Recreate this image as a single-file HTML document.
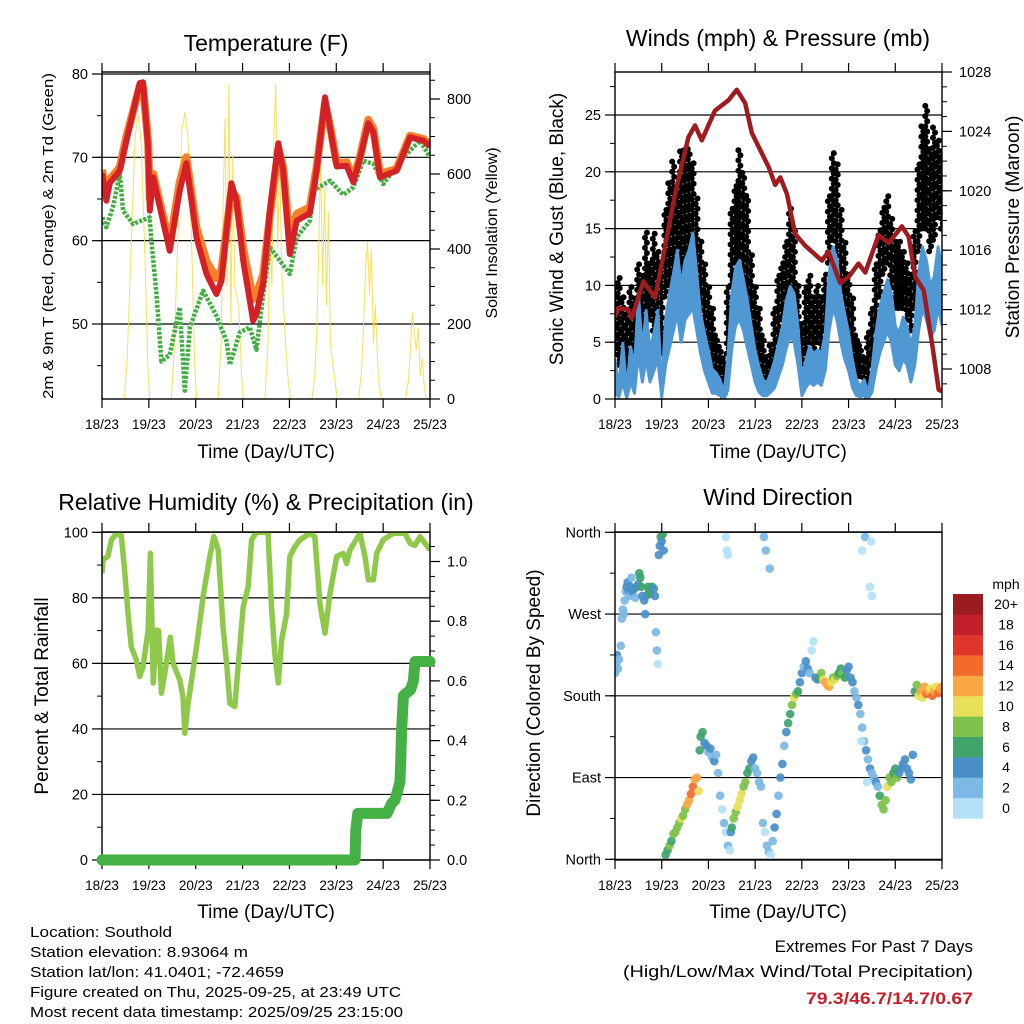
<!DOCTYPE html>
<html><head><meta charset="utf-8"><title>Southold Station Meteogram</title>
<style>
html,body{margin:0;padding:0;background:#fff;}
svg{display:block;font-family:"Liberation Sans",Arial,sans-serif;}
</style></head>
<body>
<svg id="chart" xmlns="http://www.w3.org/2000/svg" width="1024" height="1024" viewBox="0 0 1024 1024">
<rect x="0" y="0" width="1024" height="1024" fill="#fff"/>
<defs>
<clipPath id="c1"><rect x="102" y="72" width="328" height="327"/></clipPath>
<clipPath id="c2"><rect x="615" y="72" width="327" height="327"/></clipPath>
<clipPath id="c3"><rect x="102" y="532" width="328" height="328"/></clipPath>
<clipPath id="c4"><rect x="615" y="532" width="327" height="328"/></clipPath>
</defs>
<text x="266" y="51" font-size="23" text-anchor="middle">Temperature (F)</text>
<text x="778" y="46" font-size="23" text-anchor="middle">Winds (mph) &amp; Pressure (mb)</text>
<text x="266" y="510" font-size="23" text-anchor="middle">Relative Humidity (%) &amp; Precipitation (in)</text>
<text x="778" y="505" font-size="23" text-anchor="middle">Wind Direction</text>
<g font-size="19" text-anchor="middle">
<text x="266" y="458">Time (Day/UTC)</text>
<text x="778" y="458">Time (Day/UTC)</text>
<text x="266" y="918">Time (Day/UTC)</text>
<text x="778" y="918">Time (Day/UTC)</text>
</g>
<text transform="translate(53,236) rotate(-90)" font-size="15" text-anchor="middle" textLength="326" lengthAdjust="spacingAndGlyphs">2m &amp; 9m T (Red, Orange) &amp; 2m Td (Green)</text>
<text transform="translate(497,233) rotate(-90)" font-size="16" text-anchor="middle">Solar Insolation (Yellow)</text>
<text transform="translate(563,229) rotate(-90)" font-size="19" text-anchor="middle">Sonic Wind &amp; Gust (Blue, Black)</text>
<text transform="translate(1019,227) rotate(-90)" font-size="19" text-anchor="middle">Station Pressure (Maroon)</text>
<text transform="translate(48,696) rotate(-90)" font-size="19" text-anchor="middle">Percent &amp; Total Rainfall</text>
<text transform="translate(540,693) rotate(-90)" font-size="19" text-anchor="middle">Direction (Colored By Speed)</text>
<g font-size="15">
<text x="30" y="937" textLength="142" lengthAdjust="spacingAndGlyphs">Location: Southold</text>
<text x="30" y="957" textLength="218" lengthAdjust="spacingAndGlyphs">Station elevation: 8.93064 m</text>
<text x="30" y="977" textLength="254" lengthAdjust="spacingAndGlyphs">Station lat/lon: 41.0401; -72.4659</text>
<text x="30" y="997" textLength="371" lengthAdjust="spacingAndGlyphs">Figure created on Thu, 2025-09-25, at 23:49 UTC</text>
<text x="30" y="1017" textLength="373" lengthAdjust="spacingAndGlyphs">Most recent data timestamp: 2025/09/25 23:15:00</text>
</g>
<g font-size="17" text-anchor="end">
<text x="973" y="952">Extremes For Past 7 Days</text>
<text x="973" y="977" textLength="350" lengthAdjust="spacingAndGlyphs">(High/Low/Max Wind/Total Precipitation)</text>
<text x="973" y="1004" font-weight="bold" fill="#c8202a" textLength="167" lengthAdjust="spacingAndGlyphs">79.3/46.7/14.7/0.67</text>
</g>
<g id="layer"></g>
</svg>
<script>
// ---------- data ----------
const dayLabels = ["18/23","19/23","20/23","21/23","22/23","23/23","24/23","25/23"];
const tempTicks = [50,60,70,80];
const solarTicks = [0,200,400,600,800];
const windTicks = [0,5,10,15,20,25];
const presTicks = [1008,1012,1016,1020,1024,1028];
const rhTicks = [0,20,40,60,80,100];
const precipTicks = [0.0,0.2,0.4,0.6,0.8,1.0];
const dirTicks = [0,90,180,270,360];
const dirLabels = ["North","East","South","West","North"];
const speedBins = ["0","2","4","6","8","10","12","14","16","18","20+"];
const speedColors = ["#b5e1f7","#7cb9e4","#4a8fc8","#3fa36a","#7ec14b","#e8e05a","#f9a644","#f26a2c","#e0352a","#c0202a","#9b1b1e"];

const tempHours = [0,2.2,3.9,9.1,12.5,19.3,21,23.6,24.5,26.2,34.7,39.8,43.2,48.4,53.5,58.6,61.2,66.3,68.9,72.3,77.4,79.1,82.6,86,90.3,92.8,96.2,99.7,106.5,109.9,114.2,116.8,120.2,125.3,128.7,132.1,136.4,139,142.4,150.9,157.8,164.6,168];
const temp2m = [68.1,64.8,66.9,68.4,72,78.9,79,71.2,63.6,67.6,58.8,66,69.3,60.4,56,53.6,55.2,66.9,64.8,57.6,50.4,51.2,55,63.6,71.7,68.4,58.4,62.4,63.3,68.4,77.2,73.6,68.9,69,67,69.8,74.1,73,67.6,68.4,72.4,72,71.3];
const temp9m = [68.5,65.5,67.3,68.8,72.5,78.5,78.5,72,65,68,59.5,67,70,61.5,57.5,55.5,56.5,66,65.2,59,53,53.5,56,63,71,68.8,60,63.2,64,68.8,76.5,73.8,69.3,69.4,67.5,70,74.5,73.4,68,68.6,72.6,72.2,71.5];
const dewHours = [0.2,2.2,5.6,9.1,10.8,15.9,24.4,25.3,27.9,30.4,34.7,39.8,42.4,45,51.8,58.6,63.8,65.5,70.6,75.7,79.1,82.6,86,91.1,96.2,99.7,106.5,108.2,116.8,123.6,128.7,133.8,139,144.1,154.4,162.9,168];
const dewPoint = [62.8,61.6,64,68,63.6,62,62.8,60,53.6,45.5,46.3,52,42,49.6,54,51,47.9,45.1,49,49.6,46.9,53.6,59.2,57.6,56,60.4,62.4,66,67.2,65.5,66.4,69.6,69.2,66.8,70,72,70];
const solarHours = [11.5,13,15,17,18.5,20,22,23.5,24.5, 35.5,37,39,41,42.5,44,46,47.5,48.5, 59.5,61,62,63,64,65,66,67,68,70,71.5,72.5, 83.5,85,86,87,88,89,90,91,92,94,95.5,96.5, 107.5,109,110,111,112,113,114,115,116,117,118.5,120.5, 131.5,133,134,135,136,137,138,139,140,141.5,143, 155.5,157,158,159,160,161,162,163,164,165,166];
const solarValues = [0,120,420,700,760,690,380,80,0, 0,130,450,720,765,700,400,90,0, 0,150,500,750,300,840,200,650,300,250,60,0, 0,150,450,300,700,840,400,650,350,150,40,0, 0,60,180,400,640,300,560,250,500,150,80,0, 0,80,200,350,420,280,400,150,250,60,0, 0,50,140,230,180,130,190,60,110,40,0];

const presHours = [0,1.7,6.9,8.6,14.6,20.6,25.7,30.9,37.7,41.1,44.6,51.4,58.3,62.6,66.9,70.3,78.9,82.3,84.9,88.3,92.6,97.7,106.3,109.7,115.7,120,125.1,128.6,135.4,140.6,147.4,150.9,154.3,158.6,162.9,166.3,168];
const pressure = [1011.5,1012.1,1012,1011.4,1013.9,1012.8,1016.2,1019.8,1023.6,1024.4,1023.4,1025.4,1026.1,1026.8,1025.9,1023.9,1021.6,1020.4,1020.9,1019.8,1017.1,1016.3,1015.3,1015.9,1013.8,1014.2,1015.1,1014.5,1017,1016.5,1017.6,1016.9,1014.2,1013.3,1009.7,1006.6,1006.5];
const windHigh = [3.4,1.1,4.9,0.8,4.6,2.8,9.3,4.3,7.8,4.3,5.8,7.8,0.8,7,9.3,11,13.1,9.9,12.2,13.1,14.6,11,7.5,5.8,4.3,2.6,2.3,1.7,0.5,3.7,9.3,11.6,12.2,10.5,8.7,6.4,4.3,2.8,1.7,1.4,2.3,3.4,4.9,6.4,8.7,9.9,9.3,6.4,1.7,3.4,4.6,4,4.3,4,5.8,11,13.4,12.2,9.3,7.5,5.8,3.4,1.7,1.1,1.7,0.5,2.6,5.8,8.1,9.3,10.5,9.3,6.4,5.8,7.2,6.4,4.6,6.4,11,13.4,12.2,9.9,10.8,13.4,11.6];
const windLow = [0.5,0.2,1.5,0.1,1.5,0.5,4,1.5,3.5,1.5,2.5,3.5,0.2,3,4.5,6,7.5,5,7,7.5,8,6,4,2.5,1.5,0.5,0.5,0.3,0,0.8,4.5,6.5,7,6,4.5,3,1.5,0.6,0.3,0.3,0.6,1,2,3,4.5,5.5,5,3,0.3,1,1.5,1.2,1.5,1.2,2.5,6,8,7,5,3.5,2.5,1,0.3,0.2,0.3,0,0.6,2.5,4,5,6,5,3,2.5,3.5,3,1.5,3,6,8,7,5.5,6,8,6.5];
const gustLow = [4,3,4,2,4,3,6,5,7,7,6,8,4,9,10,11,12,11,12,13,14,10,8,6,4,3,2,1,0,4,10,12,12,10,8,5,4,3,2,1,2,3,5,7,8,10,8,5,3,4,5,4,5,4,6,12,14,13,9,7,6,3,2,2,1,0,3,6,9,11,12,10,8,8,8,7,6,8,13,15,15,13,14,16,15];
const gustHigh = [10,11,9,8,10,9,12,11,15,12,15,13,12,17,19,21,19,22,22,22,21,18,14,12,10,8,6,5,4,10,17,19,22,20,18,13,10,8,6,4,5,8,11,12,14,17,15,10,7,10,11,9,10,9,11,18,22,21,17,14,11,9,6,5,4,6,8,12,15,17,18,16,14,14,13,12,11,15,21,24,26,22,24,23,22];

const rhHours = [0,0.5,3,4.8,7.4,9.9,11.6,13.3,15,17.6,19.3,21,23.6,24.8,26.2,27.9,29,30.4,33,35,36.4,39.8,41.5,42.4,44.1,48.4,51.8,55.2,57.3,59.5,62,63.8,65.5,68,69.7,72.3,74.9,76.6,79.1,85,86.8,88.5,90.3,92,94.5,96.2,98.8,101.4,106.5,109,111.6,114.2,116.8,120.2,123.6,125.3,127,132.1,134.7,136.4,139,140.7,144.1,149.2,155.2,157.8,160.3,162.9,168];
const rhValues = [87.5,91.6,92.6,97.7,99.7,99,88.5,75.3,65,61,56,59,70,93.6,54,70.2,70,50.9,60,68,60,55,49.8,38.7,47.8,65,80.4,92.6,98.7,94.6,71.2,60,47.8,46.8,59,77.3,83.4,97.7,100,100,77.3,63,54,67,75,92.6,95.6,97.7,99.7,98.7,78.3,69.2,81.4,92.6,93.6,90.5,94.6,99.7,92.6,85.5,85.5,93.6,97.7,99.7,99.7,96.6,96,98.7,94.6];
const precipHours = [0,129.6,130,131,146,148.4,150,152.6,153,153.5,154.4,156,158,159.5,160.3,168];
const precipTotal = [0,0,0.1,0.156,0.156,0.19,0.2,0.26,0.33,0.44,0.55,0.56,0.57,0.6,0.665,0.665];

const dirHours = [0,0.5,1,1.5,2,3,3.5,4,4.5,5,5.5,6,6.5,7,7.5,8,8.5,9,10,10.5,11,12,12.5,13,13.5,14,15,15.5,16,17,17.5,18,19,20,20.5,21,21.5,22,22.5,23,23.5,24,24.5,25,
26,27,28,29,30,31,32,33,34,35,36,37,38,39,40,41,42,43,43.5,44,45,46,47,48,49,50,51,52,53,54,55,56,57,58,59,57,57.5,58,
59.5,60,61,62,63,64,65,66,67,68,69,70,71,72,73,74,75,76,77,78,79,80,76.5,77.5,79.5,
81,82,83,84,85,86,87,88,89,90,91,92,93,94,95,96,97,98,99,100,101,102,103,104,
105,106,107,108,109,110,111,112,113,114,115,116,117,118,119,120,121,122,123,124,
125,126,127,128,129,130,131,132,133,134,135,126.5,129.5,127,128.5,131,132,131.5,
136,137,138,139,140,141,142,143,144,145,146,147,148,149,150,151,152,153,
154,155,156,157,158,159,160,161,162,163,164,165,166,167,168];
const dirDegrees = [205,215,225,210,220,235,265,275,270,285,295,300,305,295,290,300,310,295,298,288,300,303,315,310,300,290,285,270,290,300,295,292,300,298,290,250,230,215,335,345,355,350,358,340,
5,10,15,20,28,30,35,40,45,48,55,60,65,72,80,88,90,75,120,135,140,128,125,118,122,112,108,115,95,70,55,40,30,15,10,355,340,335,
30,35,45,52,58,65,72,80,85,95,100,108,112,100,95,85,80,40,30,15,8,5,355,340,320,
20,35,50,70,90,105,125,140,150,160,170,178,182,185,195,205,212,218,210,205,230,240,200,198,
200,205,198,195,192,190,195,200,198,202,205,210,205,200,208,212,200,195,185,178,
170,160,145,130,120,110,100,95,90,85,80,130,85,340,355,300,290,350,
70,60,55,65,80,90,85,95,100,90,95,100,105,110,100,95,88,115,
185,192,180,185,178,190,182,185,188,180,185,190,183,188,190];
const dirSpeeds = [3,3,4,3,3,2,2,2,2,2,3,4,4,4,3,4,2,4,4,3,5,4,6,7,6,4,4,4,5,6,7,6,6,4,4,2,2,1,4,5,6,5,6,4,
7,6,8,7,8,9,8,9,10,8,9,12,13,14,15,13,12,11,6,7,6,5,4,3,4,3,4,2,2,2,1,2,1,2,1,1,1,1,
5,6,8,9,10,11,10,8,9,7,6,5,4,3,3,2,2,2,1,2,2,1,2,2,2,
3,4,4,3,4,4,3,5,6,7,9,10,8,6,4,4,3,4,4,3,1,1,4,4,
6,8,10,12,13,12,11,9,10,8,7,6,8,7,4,4,5,4,3,3,
4,3,2,3,4,2,4,3,2,4,3,1,1,1,2,1,1,1,
7,8,8,9,10,8,9,7,6,8,4,5,4,4,4,4,5,4,
6,8,10,12,11,13,14,12,10,14,13,11,14,12,13];

// ---------- helpers ----------
const NS = "http://www.w3.org/2000/svg";
const layer = document.getElementById('layer');
function mk(tag, attrs, parent){ const e=document.createElementNS(NS,tag); for(const k in attrs) e.setAttribute(k,attrs[k]); (parent||layer).appendChild(e); return e; }
function group(clip){ const g=mk('g', clip?{'clip-path':'url(#'+clip+')'}:{}); return g; }

const P1={x0:102,x1:430,y0:72,y1:399};
const P2={x0:615,x1:942,y0:72,y1:399};
const P3={x0:102,x1:430,y0:532,y1:860};
const P4={x0:615,x1:942,y0:532,y1:860};
function xs(P){ return h => P.x0 + h*(P.x1-P.x0)/168; }
const x1=xs(P1), x2=xs(P2), x3=xs(P3), x4=xs(P4);
const yT = t => 74 + (80-t)*8.333;
const yS = s => 399 - s*0.375;
const yW = w => 399 - w*11.36;
const yP = p => 369 - (p-1008)*14.85;
const yRH = r => 860 - r*3.277;
const yPr = p => 860 - p*298.5;
const yD = d => 859.3 - d*0.9083;

function pts(hs, vs, fx, fy){ return hs.map((h,i)=>fx(h).toFixed(1)+','+fy(vs[i]).toFixed(1)).join(' '); }

function frame(P, name){
  const g=mk('g',{});
  
  
  return g;
}
function hgrid(g,P,vals,fy,name){
  vals.forEach(v=>{ const y=fy(v); if(y<P.y0-1||y>P.y1+1) return;
    const l=mk('line',{x1:P.x0,x2:P.x1,y1:y,y2:y,stroke:'#000','stroke-width':1.2},g);
    
    
  });
}
function xAxis(g,P,fx){
  dayLabels.forEach((lab,i)=>{ const x=fx(i*24);
    const t1=mk('line',{x1:x,x2:x,y1:P.y1,y2:P.y1+9,stroke:'#000','stroke-width':1.2},g);
    
    
    const t2=mk('line',{x1:x,x2:x,y1:P.y0-9,y2:P.y0,stroke:'#000','stroke-width':1.2},g);
    
    
    const tx=mk('text',{x:x,y:P.y1+30,'font-size':13.5,'text-anchor':'middle'},g);
    tx.textContent=lab;
    
    
  });
}
function yAxis(g,P,majors,labels,fy,side,minorStep,fmt){
  const xe = side==='l'?P.x0:P.x1, dir = side==='l'?-1:1;
  const lo=fy.lo, hi=fy.hi;
  for(let v=lo; v<=hi+1e-9; v+=minorStep){ const y=fy(v); if(y<P.y0-0.5||y>P.y1+0.5) continue;
    const m=mk('line',{x1:xe,x2:xe+dir*5,y1:y,y2:y,stroke:'#000','stroke-width':1},g);
    
    
  }
  majors.forEach((v,i)=>{ const y=fy(v);
    const t=mk('line',{x1:xe,x2:xe+dir*10,y1:y,y2:y,stroke:'#000','stroke-width':1.2},g);
    
    
    const tx=mk('text',{x:xe+dir*(side==='l'?14:17),y:y+5,'font-size':14.5,'text-anchor':side==='l'?'end':'start'},g);
    tx.textContent = labels ? labels[i] : (fmt?fmt(v):String(v));
    
    
  });
}
function border(g,P){
  const r=mk('rect',{x:P.x0,y:P.y0,width:P.x1-P.x0,height:P.y1-P.y0,fill:'none',stroke:'#000','stroke-width':1.4},g);
  
  
}

// ---------- Panel 1: temperature ----------
const g1=frame(P1,'temperature');
hgrid(g1,P1,tempTicks,yT,'temperature');
const d1=group('c1');


const sol=mk('polyline',{points:pts(solarHours,solarValues,x1,yS),fill:'none',stroke:'#f7dd4a','stroke-width':1,'stroke-opacity':0.9},d1);


const dew=mk('polyline',{points:pts(dewHours,dewPoint,x1,yT),fill:'none',stroke:'#45ad44','stroke-width':4.5,'stroke-dasharray':'3 1.5','stroke-linejoin':'round'},d1);


const t9=mk('polyline',{points:pts(tempHours,temp9m,x1,yT),fill:'none',stroke:'#f58028','stroke-width':8,'stroke-linejoin':'round'},d1);


const t2=mk('polyline',{points:pts(tempHours,temp2m,x1,yT),fill:'none',stroke:'#d42027','stroke-width':6,'stroke-linejoin':'round'},d1);


const g1b=frame(P1,'temperature-frame');
border(g1b,P1);
yT.lo=45; yT.hi=80; yAxis(g1b,P1,tempTicks,null,yT,'l',5);
yS.lo=0; yS.hi=850; yAxis(g1b,P1,solarTicks,null,yS,'r',50);
xAxis(g1b,P1,x1);

// ---------- Panel 2: winds ----------
const g2=frame(P2,'winds');
hgrid(g2,P2,windTicks,yW,'winds');
const d2=group('c2');


gustLow.forEach((lo,i)=>{
  const hi=gustHigh[i];
  [-0.6,0.4].forEach((off,k)=>{
    for(let v=lo+k*0.45; v<=hi; v+=0.9){
      const c=mk('circle',{cx:x2(i*2+off).toFixed(1),cy:yW(v).toFixed(1),r:3,fill:'#000'},d2);
      
      
    }
  });
});
const bandHours = windHigh.map((v,i)=>i*2);
const bandPts = pts(bandHours,windHigh,x2,yW)+' '+pts(bandHours.slice().reverse(),windLow.slice().reverse(),x2,yW);
const band=mk('polygon',{points:bandPts,fill:'#4f98d4',stroke:'#4f98d4','stroke-width':3,'stroke-linejoin':'round'},d2);


const pl=mk('polyline',{points:pts(presHours,pressure,x2,yP),fill:'none',stroke:'#9e1b1f','stroke-width':4.5,'stroke-linejoin':'round'},d2);


const g2b=frame(P2,'winds-frame');
border(g2b,P2);
yW.lo=0; yW.hi=28.5; yAxis(g2b,P2,windTicks,null,yW,'l',2.5);
yP.lo=1007; yP.hi=1028; yAxis(g2b,P2,presTicks,null,yP,'r',1);
xAxis(g2b,P2,x2);

// ---------- Panel 3: humidity ----------
const g3=frame(P3,'humidity');
hgrid(g3,P3,rhTicks,yRH,'humidity');
const d3=group('c3');


const rh=mk('polyline',{points:pts(rhHours,rhValues,x3,yRH),fill:'none',stroke:'#8fc94b','stroke-width':5.5,'stroke-linejoin':'round'},d3);


const g3b=frame(P3,'humidity-frame');
border(g3b,P3);
yRH.lo=0; yRH.hi=100; yAxis(g3b,P3,rhTicks,null,yRH,'l',10);
yPr.lo=0; yPr.hi=1.09; yAxis(g3b,P3,precipTicks,null,yPr,'r',0.05,v=>v.toFixed(1));
xAxis(g3b,P3,x3);
const pr=mk('polyline',{points:pts(precipHours,precipTotal,x3,yPr),fill:'none',stroke:'#45b045','stroke-width':11,'stroke-linejoin':'round','stroke-linecap':'round'},layer);



// ---------- Panel 4: wind direction ----------
const g4=frame(P4,'direction');
hgrid(g4,P4,dirTicks,yD,'direction');
const d4=group('c4');


dirHours.forEach((h,i)=>{
  const idx=Math.min(10,Math.floor(dirSpeeds[i]/2));
  const c=mk('circle',{cx:x4(h).toFixed(1),cy:yD(dirDegrees[i]).toFixed(1),r:4.3,fill:speedColors[idx],'fill-opacity':0.92},d4);
  
  
});
const g4b=frame(P4,'direction-frame');
border(g4b,P4);
yD.lo=0; yD.hi=360; yAxis(g4b,P4,dirTicks,dirLabels,yD,'l',45);
xAxis(g4b,P4,x4);

// ---------- colorbar ----------
const cb=mk('g',{});


const cbt=mk('text',{x:1006,y:589,'font-size':14,'text-anchor':'middle'},cb);
cbt.textContent='mph';


speedBins.forEach((lab,i)=>{
  const k=speedBins.length-1-i;
  const y=594+k*20.4;
  const r=mk('rect',{x:953,y:y,width:30,height:20.6,fill:speedColors[i]},cb);
  
  
  const t=mk('text',{x:1006,y:y+15,'font-size':14,'text-anchor':'middle'},cb);
  t.textContent=lab;
  
  
});
</script>
</body></html>
